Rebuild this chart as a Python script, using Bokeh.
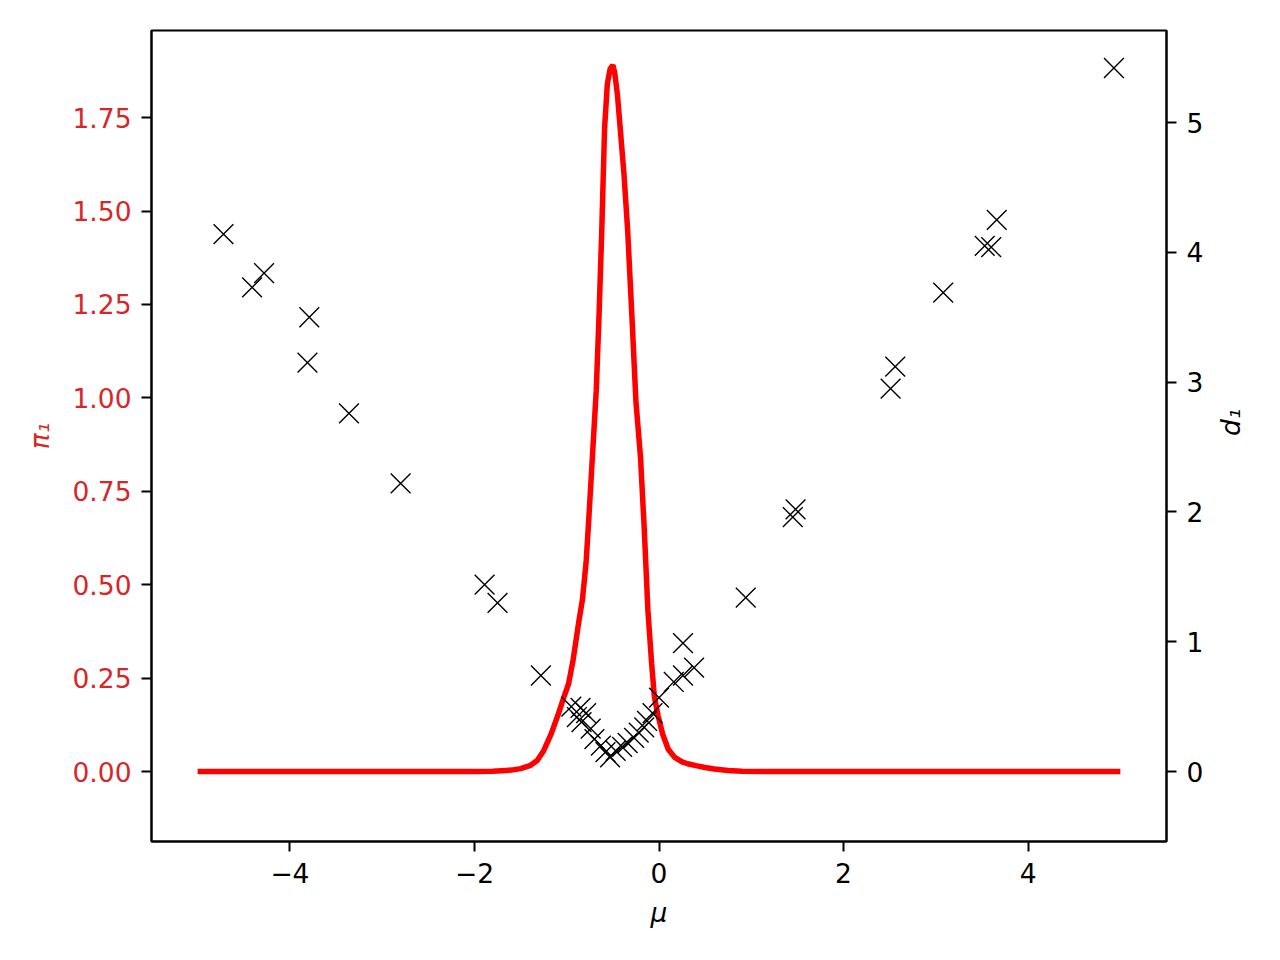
from bokeh.plotting import figure
from bokeh.models import Range1d, LinearAxis, FixedTicker
from bokeh.embed import file_html
from bokeh.resources import INLINE
import math

# red curve: pi_1 density vs mu
mu_curve = [-5.0, -2.0, -1.8, -1.6, -1.5, -1.4, -1.32, -1.25, -1.17, -1.09, -1.03, -0.98,
            -0.93, -0.87, -0.83, -0.79, -0.76, -0.72, -0.68, -0.65, -0.62, -0.59, -0.56,
            -0.53, -0.50, -0.48, -0.45, -0.42, -0.38, -0.34, -0.29, -0.25, -0.20, -0.16,
            -0.12, -0.08, -0.05, -0.01, 0.04, 0.10, 0.17, 0.25, 0.31, 0.40, 0.50, 0.60,
            0.75, 0.90, 1.2, 2.0, 5.0]
pi_curve = [0.0, 0.0, 0.001, 0.004, 0.008, 0.016, 0.03, 0.056, 0.10, 0.155, 0.20, 0.235,
            0.30, 0.40, 0.46, 0.56, 0.68, 0.85, 1.02, 1.22, 1.45, 1.72, 1.84,
            1.88, 1.89, 1.87, 1.81, 1.72, 1.60, 1.45, 1.20, 0.99, 0.84, 0.65,
            0.43, 0.29, 0.20, 0.15, 0.10, 0.06, 0.038, 0.026, 0.021, 0.016, 0.011, 0.007,
            0.003, 0.001, 0.0, 0.0, 0.0]

# black crosses: d_1 vs mu
mu_pts = [-4.72, -4.28, -4.41, -3.79, -3.81, -3.36, -2.80, -1.89, -1.75, -1.28,
          -0.95, -0.85, -0.79, -0.89, -0.84, -0.74, -0.70, -0.63, -0.58, -0.53,
          -0.47, -0.40, -0.34, -0.27, -0.22, -0.16, -0.13, -0.07, 0.00, 0.16,
          0.26, 0.38, 0.26, 0.94, 1.45, 1.48, 2.51, 2.56, 3.08, 3.53, 3.60, 3.66, 4.93]
d_pts = [4.14, 3.84, 3.73, 3.50, 3.15, 2.76, 2.22, 1.44, 1.30, 0.74,
         0.50, 0.49, 0.45, 0.42, 0.38, 0.33, 0.25, 0.20, 0.15, 0.11,
         0.16, 0.19, 0.22, 0.26, 0.30, 0.34, 0.39, 0.45, 0.57, 0.69,
         0.74, 0.80, 0.99, 1.34, 1.96, 2.02, 2.95, 3.12, 3.69, 4.05, 4.04, 4.25, 5.42]

x_ticks = [-4, -2, 0, 2, 4]
left_ticks = [0.0, 0.25, 0.5, 0.75, 1.0, 1.25, 1.5, 1.75]
right_ticks = [0, 1, 2, 3, 4, 5]

RED = "#d62728"
FONT = "DejaVu Sans"
FS = "26.5px"

p = figure(width=1272, height=952, frame_width=1015, frame_height=811,
           x_range=Range1d(-5.5, 5.5), y_range=Range1d(-0.187, 1.983),
           output_backend="svg", toolbar_location=None,
           min_border_left=151, min_border_right=106, min_border_top=30, min_border_bottom=111)
p.extra_y_ranges = {"right": Range1d(-0.539, 5.709)}

p.xgrid.visible = False
p.ygrid.visible = False
p.outline_line_color = "black"
p.outline_line_width = 2
p.background_fill_color = "white"
p.border_fill_color = "white"

p.line(mu_curve, pi_curve, line_color="red", line_width=5.5)
p.scatter(mu_pts, d_pts, marker="x", size=28, line_color="black", line_width=1.4,
          y_range_name="right")

def style(ax, color="black"):
    ax.major_tick_out = 10
    ax.major_tick_in = 0
    ax.minor_tick_out = 0
    ax.minor_tick_in = 0
    ax.major_tick_line_width = 2
    ax.axis_line_width = 2
    ax.major_label_text_font = FONT
    ax.major_label_text_font_size = FS
    ax.major_label_text_color = color
    ax.axis_label_text_font = FONT
    ax.axis_label_text_font_size = FS
    ax.axis_label_text_color = color
    ax.axis_label_text_font_style = "italic"
    ax.major_label_standoff = 10

xa = p.xaxis[0]
xa.ticker = FixedTicker(ticks=x_ticks)
xa.major_label_overrides = {-4: "\u22124", -2: "\u22122", 0: "0", 2: "2", 4: "4"}
xa.axis_label = "\u03bc"
style(xa)
xa.major_label_standoff = 11
xa.axis_label_standoff = 11

ya = p.yaxis[0]
ya.ticker = FixedTicker(ticks=left_ticks)
ya.major_label_overrides = {t: "%.2f" % t for t in left_ticks}
ya.axis_label = "\u03c0\u2081"
style(ya, RED)
ya.axis_label_standoff = 14

ra = LinearAxis(y_range_name="right", ticker=FixedTicker(ticks=right_ticks),
                axis_label="d\u2081")
style(ra)
ra.axis_label_standoff = 24
ra.axis_label_orientation = math.pi / 2
p.add_layout(ra, "right")

with open("out.html", "w") as f:
    f.write(file_html(p, INLINE))
